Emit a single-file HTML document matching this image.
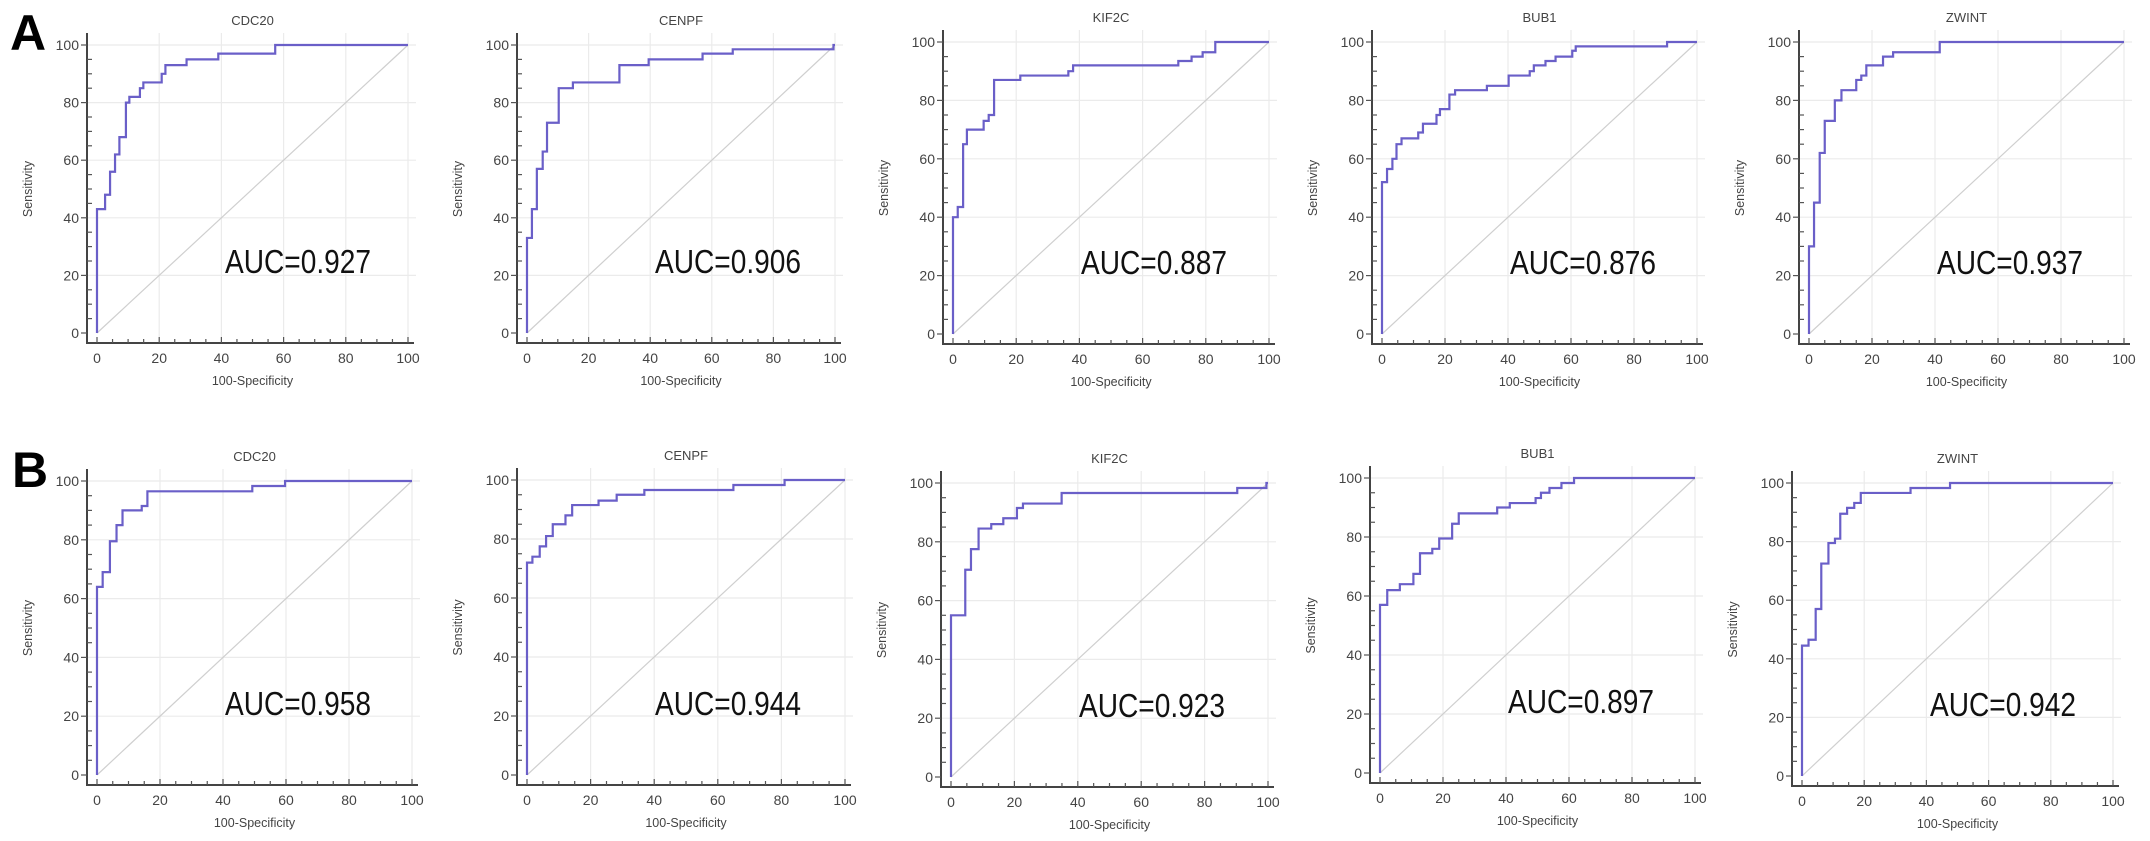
<!DOCTYPE html>
<html>
<head>
<meta charset="utf-8">
<style>
  html,body{margin:0;padding:0;background:#fff;}
  svg{display:block;font-family:"Liberation Sans",Arial,sans-serif;}
</style>
</head>
<body>
<svg id="fig" width="2150" height="841" viewBox="0 0 2150 841" xmlns="http://www.w3.org/2000/svg">
  <rect x="0" y="0" width="2150" height="841" fill="#fff"/>
  <text x="10" y="50" font-size="50" font-weight="bold" fill="#000">A</text>
  <text x="12" y="487" font-size="50" font-weight="bold" fill="#000">B</text>
</svg>
<script>
// ---- data (100-Specificity, Sensitivity at each step) ----
const genes = ["CDC20","CENPF","KIF2C","BUB1","ZWINT"];
const aucA = ["0.927","0.906","0.887","0.876","0.937"];
const aucB = ["0.958","0.944","0.923","0.897","0.942"];
const tickValues = [0,20,40,60,80,100];

const cdc20A_fpr  = [0,2.6,4.2,5.8,7.2,9.3,10.4,13.8,14.9,20.8,22,28.8,39,57.3];
const cdc20A_sens = [43,48,56,62,68,80,82,85,87,90,93,95,97,100];
const cenpfA_fpr  = [0,1.6,3.2,5.1,6.5,10.3,14.9,30,39.5,57,66.8,99.5];
const cenpfA_sens = [33,43,57,63,73,85,87,93,95,97,98.5,100];
const kif2cA_fpr  = [0,1.5,3.2,4.4,9.7,11.3,13,21.3,36.5,38,71.3,75.5,79,83];
const kif2cA_sens = [40,43.5,65,70,73,75,87,88.5,90,92,93.5,95,96.5,100];
const bub1A_fpr   = [0,1.6,3.3,4.6,6.2,11.5,13,17.3,18.4,21.4,23.2,33.3,40.2,46.9,48.2,51.9,55.1,60.4,61.5,90.5];
const bub1A_sens  = [52,56.5,60,65,67,69,72,75,77,82,83.5,85,88.5,90,92,93.5,95,97,98.5,100];
const zwintA_fpr  = [0,1.6,3.4,5,8.2,10.3,15,16.6,18.2,23.5,26.7,41.5];
const zwintA_sens = [30,45,62,73,80,83.5,87,88.5,92,95,96.5,100];

const cdc20B_fpr  = [0,1.8,4.1,6.2,8.1,14.2,16,49.3,59.7];
const cdc20B_sens = [64,69,79.5,85,90,91.5,96.5,98.3,100];
const cenpfB_fpr  = [0,1.7,4,6,8.1,12.1,14.2,22.5,28.2,36.9,64.9,81];
const cenpfB_sens = [72,74,77.5,81,85,88,91.5,93,95,96.6,98.3,100];
const kif2cB_fpr  = [0,4.5,6.3,8.7,12.7,16.5,20.8,22.7,34.9,90.3,99.5];
const kif2cB_sens = [55,70.5,77.5,84.5,86,88,91.5,93,96.6,98.3,100];
const bub1B_fpr   = [0,2.3,6.3,10.6,12.7,16.6,18.8,22.9,25,37.2,41.2,49.4,51.1,53.8,57.6,61.6];
const bub1B_sens  = [57,62,64,67.5,74.5,76,79.5,84.5,88,90,91.5,93.2,95,96.6,98.3,100];
const zwintB_fpr  = [0,2.1,4.4,6.2,8.5,10.6,12.3,14.5,16.8,18.9,34.9,47.6];
const zwintB_sens = [44.5,46.5,57,72.5,79.5,81,89.5,91.5,93.2,96.6,98.3,100];

const seriesA = [[cdc20A_fpr,cdc20A_sens],[cenpfA_fpr,cenpfA_sens],[kif2cA_fpr,kif2cA_sens],[bub1A_fpr,bub1A_sens],[zwintA_fpr,zwintA_sens]];
const seriesB = [[cdc20B_fpr,cdc20B_sens],[cenpfB_fpr,cenpfB_sens],[kif2cB_fpr,kif2cB_sens],[bub1B_fpr,bub1B_sens],[zwintB_fpr,zwintB_sens]];

// ---- layout (pixel geometry, not data) ----
const layoutA = [[97,408,45,333],[527,835,45,333],[953,1269,42,334],[1382,1697,42,334],[1809,2124,42,334]];
const layoutB = [[97,412,481,775],[527,845,480,775],[951,1268,483,777],[1380,1695,478,773],[1802,2113,483,776]];

const NS = "http://www.w3.org/2000/svg";
const svg = document.getElementById("fig");
function mk(tag, attrs, parent){
  const e = document.createElementNS(NS, tag);
  for (const k in attrs) e.setAttribute(k, attrs[k]);
  (parent||svg).appendChild(e);
  return e;
}

function drawPanel(row, i, geom, series, auc){
  const [x0,x100,y100,y0] = geom;
  const sx = v => x0 + (x100-x0)*v/100;
  const sy = v => y0 - (y0-y100)*v/100;
  const g = mk("g", {});
  
  
  const axX = x0 - 10, axY = y0 + 10;

  // grid
  for (const t of tickValues){
    if (t === 0) continue;
    const gl = mk("line",{x1:sx(t),x2:sx(t),y1:y100-12,y2:axY,stroke:"#ebebeb","stroke-width":1.2},g);
    
    
    const gh = mk("line",{x1:axX,x2:x100+8,y1:sy(t),y2:sy(t),stroke:"#ebebeb","stroke-width":1.2},g);
    
    
  }
  // diagonal
  const dg = mk("line",{x1:sx(0),y1:sy(0),x2:sx(100),y2:sy(100),stroke:"#cfcfcf","stroke-width":1.2},g);
  
  

  // axes
  const ya = mk("line",{x1:axX,x2:axX,y1:y100-12,y2:axY+1,stroke:"#444","stroke-width":2},g);
  
  
  const xa = mk("line",{x1:axX-1,x2:x100+6,y1:axY,y2:axY,stroke:"#444","stroke-width":2},g);
  
  
  for (let v=0; v<=100; v+=5){
    const major = v%20===0;
    const ty = mk("line",{x1:axX-(major?6:0),x2:axX+(major?0:5),y1:sy(v),y2:sy(v),stroke:"#555","stroke-width":1.2},g);
    
    
    const tx = mk("line",{x1:sx(v),x2:sx(v),y1:axY-(major?6:4),y2:axY+(major?0:0),stroke:"#555","stroke-width":1.2},g);
    
    
  }
  for (const t of tickValues){
    const yl = mk("text",{x:axX-8,y:sy(t)+5,"font-size":14,fill:"#444","text-anchor":"end"},g);
    yl.textContent = t;
    
    
    const xl = mk("text",{x:sx(t),y:axY+20,"font-size":14,fill:"#444","text-anchor":"middle"},g);
    xl.textContent = t;
    
    
  }
  // titles
  const tt = mk("text",{x:(x0+x100)/2,y:y100-20,"font-size":13,fill:"#444","text-anchor":"middle"},g);
  tt.textContent = genes[i];
  
  
  const xt = mk("text",{x:(x0+x100)/2,y:axY+42,"font-size":12.5,fill:"#444","text-anchor":"middle"},g);
  xt.textContent = "100-Specificity";
  
  
  const cy = (y0+y100)/2;
  const yt = mk("text",{x:0,y:0,"font-size":12.5,fill:"#444","text-anchor":"middle",transform:`translate(${x0-65},${cy}) rotate(-90)`},g);
  yt.textContent = "Sensitivity";
  
  

  // ROC curve (vertical then horizontal steps)
  const [fpr, sens] = series;
  let d = `M${sx(0)},${sy(0)}`;
  for (let k=0; k<fpr.length; k++){
    d += ` L${sx(fpr[k])},${sy(k===0?0:sens[k-1])} L${sx(fpr[k])},${sy(sens[k])}`;
  }
  d += ` L${sx(100)},${sy(sens[sens.length-1])}`;
  const p = mk("path",{d:d,fill:"none",stroke:"#6a5fc8","stroke-width":2.2,"stroke-linejoin":"miter"},g);
  
  

  // AUC label
  const at = mk("text",{x:x0+128,y:y0-60,"font-size":33,fill:"#111",textLength:146,lengthAdjust:"spacingAndGlyphs"},g);
  at.textContent = "AUC=" + auc;
  
  
}

for (let i=0;i<5;i++){
  drawPanel("a", i, layoutA[i], seriesA[i], aucA[i]);
  drawPanel("b", i, layoutB[i], seriesB[i], aucB[i]);
}
</script>
</body>
</html>
